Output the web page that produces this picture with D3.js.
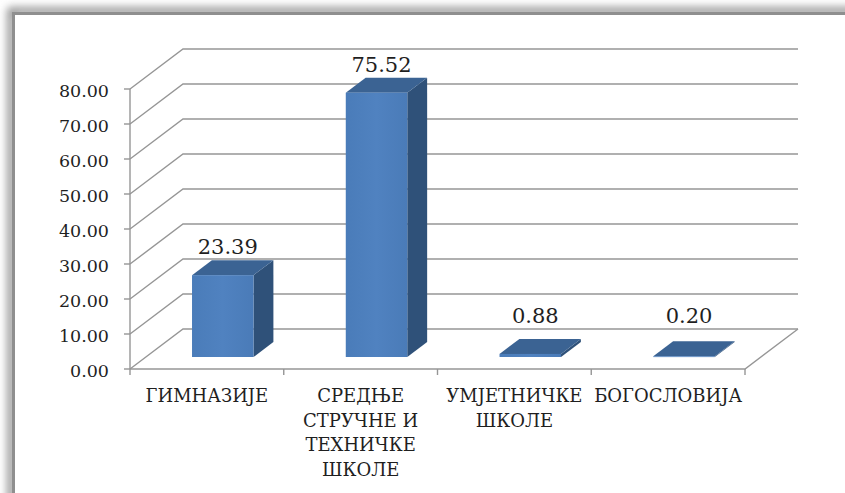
<!DOCTYPE html>
<html>
<head>
<meta charset="utf-8">
<script src="https://cdn.jsdelivr.net/npm/d3@7"></script>
<style>
  body { margin: 0; background: #fff; }
  svg { display: block; }
  text { font-family: "DejaVu Serif", serif; fill: #1f1f1f; }
</style>
</head>
<body>
<div id="chart"></div>
<script>
// chart data
const categories = ["ГИМНАЗИЈЕ", "СРЕДЊЕ\nСТРУЧНЕ И\nТЕХНИЧКЕ\nШКОЛЕ", "УМЈЕТНИЧКЕ\nШКОЛЕ", "БОГОСЛОВИЈА"];
const values = [23.39, 75.52, 0.88, 0.20];
const yTicks = [0, 10, 20, 30, 40, 50, 60, 70, 80];

const width = 845, height = 493;

// 3d look: offset of the back wall relative to the front plane
const depthX = 53, depthY = -40;
const barFront = 0.3, barBack = 0.675; // where the bars sit inside the depth

const svg = d3.select("#chart").append("svg")
    .attr("width", width)
    .attr("height", height);

const defs = svg.append("defs");
const blur = defs.append("filter").attr("id", "shadow")
    .attr("x", "-10%").attr("y", "-10%").attr("width", "120%").attr("height", "120%");
blur.append("feGaussianBlur").attr("stdDeviation", 4);

const grad = defs.append("linearGradient").attr("id", "front")
    .attr("x1", 0).attr("x2", 1).attr("y1", 0).attr("y2", 0);
grad.append("stop").attr("offset", "0%").attr("stop-color", "#4a7cb9");
grad.append("stop").attr("offset", "50%").attr("stop-color", "#5082c0");
grad.append("stop").attr("offset", "100%").attr("stop-color", "#4a7bb8");

// frame with soft shadow
svg.append("rect")
    .attr("x", 11).attr("y", 11)
    .attr("width", 1000).attr("height", 800)
    .attr("fill", "none")
    .attr("stroke", "#8a8a8a")
    .attr("stroke-width", 7)
    .attr("filter", "url(#shadow)");
svg.append("rect")
    .attr("x", 13.5).attr("y", 13.5)
    .attr("width", 1000).attr("height", 800)
    .attr("fill", "#fff")
    .attr("stroke", "#8f8f8f")
    .attr("stroke-width", 3);

const x = d3.scaleBand()
    .domain(categories)
    .range([130, 745]);

const y = d3.scaleLinear()
    .domain([0, 80])
    .range([369, 89]);

const grid = svg.append("g")
    .attr("fill", "none")
    .attr("stroke", "#969696")
    .attr("stroke-width", 1.4);

const x0 = x.range()[0], x1 = x.range()[1];

// gridlines: diagonal on the side wall, then along the back wall
yTicks.forEach(t => {
    grid.append("path")
        .attr("d", `M${x0},${y(t)} L${x0 + depthX},${y(t) + depthY} L${x1 + depthX},${y(t) + depthY}`);
});
// floor
grid.append("path")
    .attr("d", `M${x0},${y(0)} L${x1},${y(0)} L${x1 + depthX},${y(0) + depthY}`);
// vertical axis
grid.append("path")
    .attr("d", `M${x0},${y(80)} L${x0},${y(0)}`);

// y ticks and labels
const yAxis = svg.append("g");
yTicks.forEach(t => {
    yAxis.append("line")
        .attr("x1", x0 - 6).attr("x2", x0)
        .attr("y1", y(t)).attr("y2", y(t))
        .attr("stroke", "#969696").attr("stroke-width", 1.4);
    yAxis.append("text")
        .attr("x", x0 - 21)
        .attr("y", y(t) + 8)
        .attr("text-anchor", "end")
        .attr("font-size", "17.5px")
        .text(d3.format(".2f")(t));
});

// category ticks on the front floor edge
const xTicks = categories.map(c => x(c)).concat([x1]);
xTicks.forEach(px => {
    svg.append("line")
        .attr("x1", px).attr("x2", px)
        .attr("y1", y(0)).attr("y2", y(0) + 6)
        .attr("stroke", "#969696").attr("stroke-width", 1.4);
});

// bars
const bw = x.bandwidth() * 0.4;
const fx = barFront * depthX, fy = barFront * depthY;
const dx = (barBack - barFront) * depthX, dy = (barBack - barFront) * depthY;

const bars = svg.selectAll("g.bar")
    .data(values)
    .enter()
    .append("g")
    .attr("class", "bar");

bars.each(function (v, i) {
    const g = d3.select(this);
    const left = x(categories[i]) + x.bandwidth() * 0.3 + fx;
    const right = left + bw;
    const top = y(v) + fy;
    const bottom = y(0) + fy;

    // side
    g.append("path")
        .attr("d", `M${right},${top} L${right + dx},${top + dy} L${right + dx},${bottom + dy} L${right},${bottom} Z`)
        .attr("fill", "#2f5179");
    // top
    g.append("path")
        .attr("d", `M${left},${top} L${left + dx},${top + dy} L${right + dx},${top + dy} L${right},${top} Z`)
        .attr("fill", "#3b6393");
    // front
    g.append("rect")
        .attr("x", left)
        .attr("y", top)
        .attr("width", bw)
        .attr("height", Math.max(bottom - top, 0.8))
        .attr("fill", "url(#front)");
});

// value labels
bars.append("text")
    .attr("x", (v, i) => x(categories[i]) + x.bandwidth() / 2 + fx + 5)
    .attr("y", v => Math.min(y(v) + fy - 21, y(0) + fy - 34))
    .attr("text-anchor", "middle")
    .attr("font-size", "21px")
    .text(v => d3.format(".2f")(v));

// category labels
categories.forEach(c => {
    const lines = c.split("\n");
    const t = svg.append("text")
        .attr("text-anchor", "middle")
        .attr("font-size", "18px");
    lines.forEach((line, j) => {
        t.append("tspan")
            .attr("x", x(c) + x.bandwidth() / 2)
            .attr("y", 402 + j * 24.7)
            .text(line);
    });
});
</script>
</body>
</html>
